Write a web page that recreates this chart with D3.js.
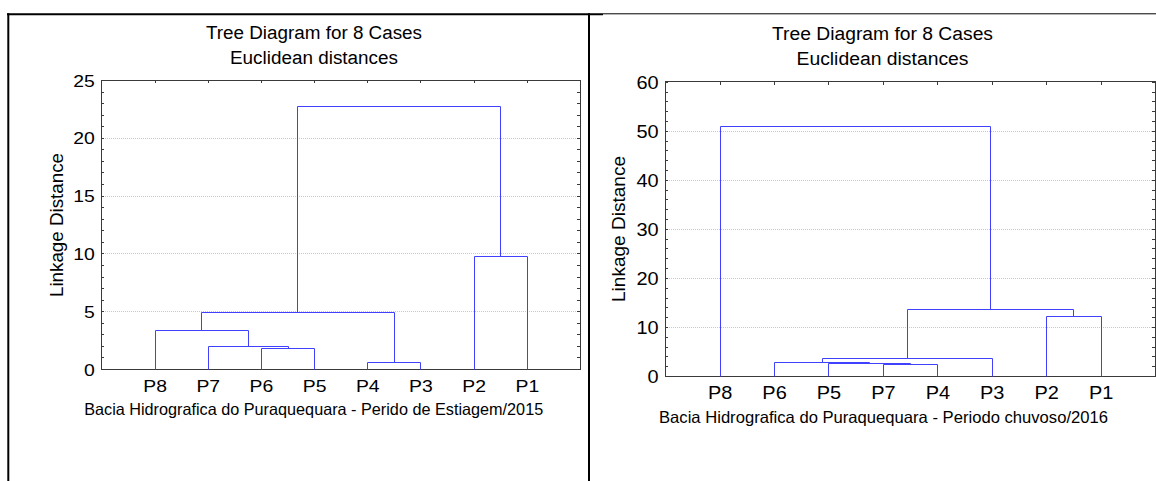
<!DOCTYPE html>
<html>
<head>
<meta charset="utf-8">
<script src="https://cdn.jsdelivr.net/npm/d3@7/dist/d3.min.js"></script>
<style>
  html, body { margin: 0; padding: 0; background: #fff; }
  svg { display: block; }
  text { font-family: Arial, "Liberation Sans", sans-serif; fill: #000; }
</style>
</head>
<body>
<svg id="chart" width="1156" height="481"></svg>
<script>
// ---------------- DATA ----------------
const chartTitle = "Tree Diagram for 8 Cases";
const chartSubtitle = "Euclidean distances";
const yAxisTitle = "Linkage Distance";

// Left panel: dry season 2015
const leavesA = ["P8", "P7", "P6", "P5", "P4", "P3", "P2", "P1"];
// merges: left member, right member, linkage distance (clusters named C0..C6 in merge order)
const mergeLeftA   = ["P4", "P6", "P7", "P8", "C3", "P2", "C4"];
const mergeRightA  = ["P3", "P5", "C1", "C2", "C0", "P1", "C5"];
const mergeHeightA = [0.58, 1.79, 1.99, 3.35, 4.9, 9.8, 22.72];
const yTicksA = [0, 5, 10, 15, 20, 25];
const xTitleA = "Bacia Hidrografica do Puraquequara - Perido de Estiagem/2015";

// Right panel: rainy season 2016
const leavesB = ["P8", "P6", "P5", "P7", "P4", "P3", "P2", "P1"];
const mergeLeftB   = ["P7", "P5", "P6", "C2", "P2", "C3", "P8"];
const mergeRightB  = ["P4", "C0", "C1", "P3", "P1", "C4", "C5"];
const mergeHeightB = [2.45, 2.6, 2.79, 3.73, 12.17, 13.6, 50.9];
const yTicksB = [0, 10, 20, 30, 40, 50, 60];
const xTitleB = "Bacia Hidrografica do Puraquequara - Periodo chuvoso/2016";

// ---------------- DRAWING ----------------
const svg = d3.select("#chart");
const LINE = "#4040ff";
const FRAME = "#3a3a3a";

// outer page borders
const border = svg.append("g").attr("stroke", "#000").attr("fill", "none");
border.append("line").attr("x1", 7).attr("x2", 603).attr("y1", 14.3).attr("y2", 14.3).attr("stroke-width", 2);
border.append("line").attr("x1", 603).attr("x2", 1156).attr("y1", 13.8).attr("y2", 13.8).attr("stroke-width", 1);
border.append("line").attr("x1", 8.3).attr("x2", 8.3).attr("y1", 13.3).attr("y2", 481).attr("stroke-width", 2);
border.append("line").attr("x1", 589).attr("x2", 589).attr("y1", 13.3).attr("y2", 481).attr("stroke-width", 2);

// widen glyphs horizontally (reference uses wide screen-hinted Arial)
function stretch(sel, k) {
  sel.each(function () {
    const w = this.getComputedTextLength();
    if (w > 0) d3.select(this).attr("textLength", w * k).attr("lengthAdjust", "spacingAndGlyphs");
  });
}

function panel(cfg) {
  const g = svg.append("g");
  const x = d3.scaleLinear().domain([0, cfg.leaves.length + 1]).range([cfg.left, cfg.right]);
  const y = d3.scaleLinear().domain([0, cfg.yMax]).range([cfg.bottom, cfg.top]);
  const W = cfg.right - cfg.left, H = cfg.bottom - cfg.top;

  // grid lines
  g.append("g")
    .attr("transform", `translate(${cfg.left},0)`)
    .call(d3.axisLeft(y).tickValues(cfg.yTicks.filter(v => v > 0 && v < cfg.yMax)).tickSize(-W).tickFormat(""))
    .call(a => a.select(".domain").remove())
    .call(a => a.selectAll("line").attr("stroke", "#c8c8c8").attr("stroke-dasharray", "1,1").attr("shape-rendering", "crispEdges"));

  // minor ticks left & right (inward)
  const minor = d3.range(0, cfg.yMax + 0.001, cfg.minorStep);
  g.append("g").attr("transform", `translate(${cfg.left},0)`)
    .call(d3.axisLeft(y).tickValues(minor).tickSize(-3).tickFormat(""))
    .call(a => a.select(".domain").remove())
    .call(a => a.selectAll("line").attr("stroke", FRAME).attr("shape-rendering", "crispEdges"));
  g.append("g").attr("transform", `translate(${cfg.right},0)`)
    .call(d3.axisRight(y).tickValues(minor).tickSize(-3).tickFormat(""))
    .call(a => a.select(".domain").remove())
    .call(a => a.selectAll("line").attr("stroke", FRAME).attr("shape-rendering", "crispEdges"));
  // top ticks at leaf positions (inward)
  const leafPos = cfg.leaves.map((d, i) => i + 1);
  g.append("g").attr("transform", `translate(0,${cfg.top})`)
    .call(d3.axisTop(x).tickValues(leafPos).tickSize(-3).tickFormat(""))
    .call(a => a.select(".domain").remove())
    .call(a => a.selectAll("line").attr("stroke", FRAME).attr("shape-rendering", "crispEdges"));

  // frame
  g.append("rect").attr("x", cfg.left).attr("y", cfg.top).attr("width", W).attr("height", H)
    .attr("fill", "none").attr("stroke", FRAME).attr("stroke-width", 1).attr("shape-rendering", "crispEdges");

  // y tick labels
  g.append("g").attr("transform", `translate(${cfg.left},0)`)
    .call(d3.axisLeft(y).tickValues(cfg.yTicks).tickSize(0).tickPadding(6.5))
    .call(a => a.select(".domain").remove())
    .call(a => a.selectAll("text").attr("font-size", cfg.labelSize).attr("font-family", "Arial, 'Liberation Sans', sans-serif")
      .attr("fill", "#000").attr("dy", "0.36em").call(s => stretch(s, 1.14)));

  // x leaf labels
  g.append("g").attr("transform", `translate(0,${cfg.bottom})`)
    .call(d3.axisBottom(x).tickValues(leafPos).tickSize(0).tickPadding(0).tickFormat(i => cfg.leaves[i - 1]))
    .call(a => a.select(".domain").remove())
    .call(a => a.selectAll("text").attr("font-size", cfg.labelSize).attr("font-family", "Arial, 'Liberation Sans', sans-serif")
      .attr("fill", "#000").attr("dy", null).attr("y", cfg.leafBase).call(s => stretch(s, 1.14)));

  // dendrogram
  const nodes = {};
  cfg.leaves.forEach((name, i) => { nodes[name] = { x: i + 1, h: 0 }; });
  const path = d3.path();
  cfg.mergeLeft.forEach((a, k) => {
    const A = nodes[a], B = nodes[cfg.mergeRight[k]], h = cfg.mergeHeight[k];
    const px = v => Math.round(x(v)) + 0.5, py = v => Math.round(y(v)) + 0.5;
    path.moveTo(px(A.x), py(A.h));
    path.lineTo(px(A.x), py(h));
    path.lineTo(px(B.x), py(h));
    path.lineTo(px(B.x), py(B.h));
    nodes["C" + k] = { x: (A.x + B.x) / 2, h: h };
  });
  g.append("path").attr("d", path.toString()).attr("fill", "none").attr("stroke", LINE).attr("stroke-width", 1);

  // titles
  const addText = (txt, size, cx, base, width, rotate) => {
    const t = g.append("text").text(txt).attr("font-size", size).attr("text-anchor", "middle");
    if (width) t.attr("textLength", width).attr("lengthAdjust", "spacingAndGlyphs");
    if (rotate) t.attr("transform", `translate(${cx},${base}) rotate(-90)`);
    else t.attr("x", cx).attr("y", base);
    return t;
  };
  addText(chartTitle, 18, cfg.titleX, cfg.titleBase, cfg.titleW);
  addText(chartSubtitle, 18, cfg.titleX, cfg.titleBase + 25, cfg.subW);
  addText(cfg.xTitle, 16.5, cfg.xTitleX, cfg.bottom + cfg.xTitleOff, cfg.xTitleW);
  addText(yAxisTitle, 18, cfg.yTitleX, cfg.yTitleY, cfg.yTitleW, true);
}

panel({
  leaves: leavesA, mergeLeft: mergeLeftA, mergeRight: mergeRightA, mergeHeight: mergeHeightA,
  yTicks: yTicksA, yMax: 25, minorStep: 1, labelSize: 17,
  left: 101.4, right: 580, top: 80, bottom: 369,
  leafBase: 22.7,
  titleX: 314, titleBase: 39.3, titleW: 216, subW: 168,
  xTitle: xTitleA, xTitleX: 313.7, xTitleOff: 46, xTitleW: 459,
  yTitleX: 63, yTitleY: 225, yTitleW: 144
});

panel({
  leaves: leavesB, mergeLeft: mergeLeftB, mergeRight: mergeRightB, mergeHeight: mergeHeightB,
  yTicks: yTicksB, yMax: 60, minorStep: 2, labelSize: 17.5,
  left: 665.2, right: 1155, top: 81.7, bottom: 376,
  leafBase: 23.3,
  titleX: 882.5, titleBase: 40, titleW: 221, subW: 172,
  xTitle: xTitleB, xTitleX: 883.5, xTitleOff: 46.7, xTitleW: 449,
  yTitleX: 625, yTitleY: 229, yTitleW: 146
});
</script>
</body>
</html>
